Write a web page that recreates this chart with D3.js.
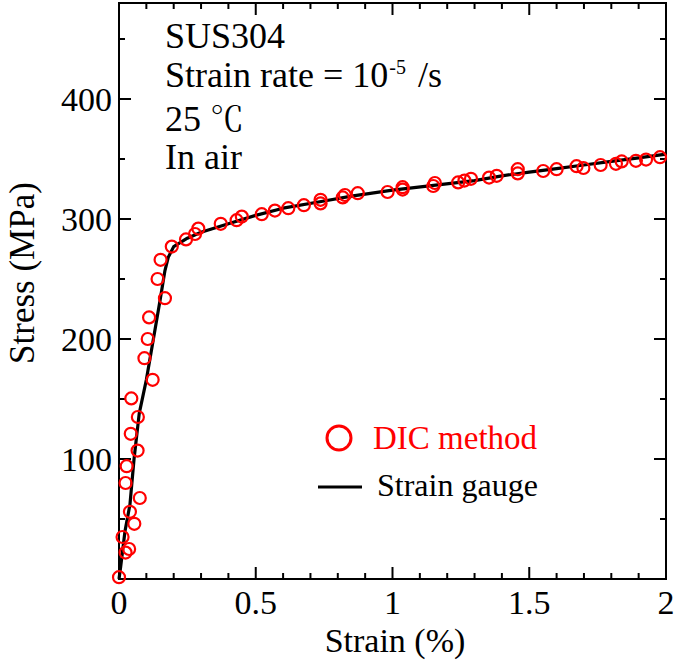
<!DOCTYPE html>
<html>
<head>
<meta charset="utf-8">
<script src="https://cdn.jsdelivr.net/npm/d3@7"></script>
<style>
  html, body { margin: 0; padding: 0; background: #fff; }
</style>
</head>
<body>
<svg id="chart" width="675" height="661"></svg>
<script>
// DIC measurements: strain (%) and stress (MPa)
const dicStrain = [0, 0.024, 0.037, 0.013, 0.056, 0.040, 0.076, 0.024, 0.028, 0.068,
  0.043, 0.069, 0.045, 0.123, 0.093, 0.105, 0.110, 0.168, 0.141, 0.152,
  0.193, 0.245, 0.278, 0.290, 0.372, 0.430, 0.449, 0.522, 0.570, 0.619,
  0.676, 0.737, 0.737, 0.818, 0.826, 0.873, 0.982, 1.037, 1.037, 1.149,
  1.155, 1.240, 1.263, 1.287, 1.353, 1.381, 1.458, 1.458, 1.551, 1.600,
  1.673, 1.698, 1.761, 1.817, 1.838, 1.890, 1.927, 1.978];
const dicStress = [1.5, 22, 25, 35, 46, 56, 67.5, 80, 94, 107,
  121, 135, 150.5, 166, 184, 200, 218, 234, 250, 266,
  277, 283, 287.5, 292, 296, 299, 302, 304, 307, 309,
  311.5, 313, 316, 318, 320, 321.5, 322.5, 324.5, 326.5, 327.5,
  330, 330.5, 332, 333.5, 334.5, 336, 338, 341.5, 340, 341.5,
  344, 342.5, 345, 346, 348, 348.5, 349.5, 351.5];

// Strain gauge curve
const gaugeStrain = [0, 0.006, 0.022, 0.040, 0.055, 0.074, 0.100, 0.125, 0.150, 0.168,
  0.180, 0.200, 0.250, 0.300, 0.400, 0.500, 0.600, 0.750, 0.850, 1.000,
  1.150, 1.300, 1.400, 1.500, 1.600, 1.700, 1.800, 1.900, 2.000];
const gaugeStress = [0, 10, 40, 62, 100, 138, 166, 199, 232, 257,
  268, 277, 284, 289, 296, 303, 309, 315, 319, 324,
  328, 332, 336, 339, 342, 345, 348, 351, 354];

// Axis ticks
const xMajorTicks = [0, 0.5, 1, 1.5, 2];
const xTickLabels = ["0", "0.5", "1", "1.5", "2"];
const xMinorTicks = d3.range(1, 20).map(i => i / 10).filter(v => !xMajorTicks.includes(v));
const yMajorTicks = [100, 200, 300, 400];
const yTickLabels = ["100", "200", "300", "400"];
const yMinorTicks = [50, 150, 250, 350, 450];

const annotations = ["SUS304", "Strain rate = 10", "25 ", "In air"];

const SERIF = "'Liberation Serif', 'Times New Roman', serif";
const CJK_SERIF = "'Noto Serif CJK JP', 'Noto Sans CJK JP', serif";

const svg = d3.select("#chart");
const plotLeft = 119, plotRight = 666, plotTop = 3, plotBottom = 579;

const x = d3.scaleLinear().domain([0, 2]).range([plotLeft, plotRight]);
const y = d3.scaleLinear().domain([0, 480]).range([plotBottom, plotTop]);

function label(sel, size) {
  return sel.style("font-family", SERIF).attr("font-size", size);
}

// Frame
svg.append("rect")
  .attr("x", plotLeft).attr("y", plotTop)
  .attr("width", plotRight - plotLeft).attr("height", plotBottom - plotTop)
  .attr("fill", "none").attr("stroke", "#000").attr("stroke-width", 2);

// Ticks drawn inward on every side
const majorLen = 12, minorLen = 6;
const tickG = svg.append("g").attr("stroke", "#000").attr("stroke-width", 2);
function xTicks(vals, len) {
  vals.forEach(v => {
    tickG.append("line").attr("x1", x(v)).attr("x2", x(v)).attr("y1", plotBottom).attr("y2", plotBottom - len);
    tickG.append("line").attr("x1", x(v)).attr("x2", x(v)).attr("y1", plotTop).attr("y2", plotTop + len);
  });
}
function yTicks(vals, len) {
  vals.forEach(v => {
    tickG.append("line").attr("y1", y(v)).attr("y2", y(v)).attr("x1", plotLeft).attr("x2", plotLeft + len);
    tickG.append("line").attr("y1", y(v)).attr("y2", y(v)).attr("x1", plotRight).attr("x2", plotRight - len);
  });
}
xTicks(xMajorTicks, majorLen);
xTicks(xMinorTicks, minorLen);
yTicks(yMajorTicks, majorLen);
yTicks(yMinorTicks, minorLen);

// Tick labels
label(svg.append("g").selectAll("text").data(xMajorTicks).join("text"), 34)
  .attr("x", d => x(d)).attr("y", plotBottom + 35)
  .attr("text-anchor", "middle")
  .text((d, i) => xTickLabels[i]);
label(svg.append("g").selectAll("text").data(yMajorTicks).join("text"), 34)
  .attr("x", plotLeft - 7).attr("y", d => y(d) + 12)
  .attr("text-anchor", "end")
  .text((d, i) => yTickLabels[i]);

// Axis titles
label(svg.append("text"), 34).attr("x", 395).attr("y", 652)
  .attr("text-anchor", "middle").text("Strain (%)");
label(svg.append("text"), 35)
  .attr("transform", "translate(34, 273) rotate(-90)")
  .attr("text-anchor", "middle").text("Stress (MPa)");

// Strain gauge curve
const line = d3.line().x((d, i) => x(gaugeStrain[i])).y((d, i) => y(gaugeStress[i]));
svg.append("path").datum(gaugeStrain)
  .attr("d", line).attr("fill", "none").attr("stroke", "#000")
  .attr("stroke-width", 3.2).attr("stroke-linejoin", "round");

// DIC points
svg.append("g").selectAll("circle").data(dicStrain).join("circle")
  .attr("cx", d => x(d)).attr("cy", (d, i) => y(dicStress[i]))
  .attr("r", 6).attr("fill", "none")
  .attr("stroke", "#ff0000").attr("stroke-width", 2.2);

// Condition notes
const noteY = [48, 87, 131, 169];
annotations.forEach((t, i) => {
  const tx = label(svg.append("text"), 36).attr("x", 165).attr("y", noteY[i]);
  tx.append("tspan").text(t);
  if (i === 1) {
    tx.append("tspan").attr("font-size", 20).attr("dx", 1).attr("dy", -13).text("-5");
    tx.append("tspan").attr("dx", 12).attr("dy", 13).text("/s");
  } else if (i === 2) {
    tx.append("tspan").style("font-family", CJK_SERIF).attr("font-size", 34).text("\u2103");
  }
});

// Legend
svg.append("circle").attr("cx", 339).attr("cy", 438).attr("r", 12)
  .attr("fill", "none").attr("stroke", "#ff0000").attr("stroke-width", 3);
label(svg.append("text"), 33).attr("x", 373).attr("y", 449)
  .attr("fill", "#ff0000").text("DIC method");
svg.append("line").attr("x1", 318).attr("x2", 362).attr("y1", 487).attr("y2", 487)
  .attr("stroke", "#000").attr("stroke-width", 3);
label(svg.append("text"), 32).attr("x", 377).attr("y", 496)
  .attr("fill", "#000").text("Strain gauge");
</script>
</body>
</html>
